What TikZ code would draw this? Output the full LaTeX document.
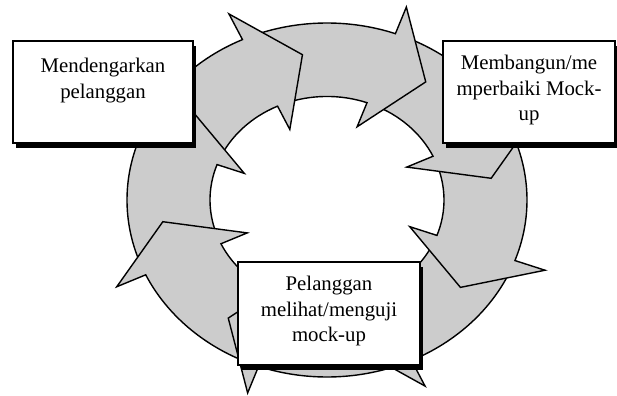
\documentclass[tikz,border=0pt]{standalone}
\usepackage{fontspec}
\setmainfont{Liberation Serif}

\newlength{\du}
\setlength{\du}{0.5pt}

\definecolor{dialinecolor}{rgb}{0.000000, 0.000000, 0.000000}
\definecolor{ringcolor}{rgb}{0.800000, 0.800000, 0.800000}

\tikzset{
	ringarrow/.style={fill=ringcolor, draw=dialinecolor, line width=1.4\du, line join=miter},
	mockbox/.style={draw=dialinecolor, fill=white, line width=1.6\du, inner sep=0pt},
	boxshadow/.style={draw=none, fill=dialinecolor, inner sep=0pt},
	boxtext/.style={anchor=north, inner sep=0pt, align=center, font=\fontsize{10.4}{12.8}\selectfont}
}

\begin{document}
\begin{tikzpicture}
	\pgftransformxscale{1.000000}
	\pgftransformyscale{-1.000000}
	\useasboundingbox (0\du,0\du) rectangle (617\du,396\du);
	% ring of arrows
	\begin{scope}[shift={(327\du,200\du)}, yscale=-0.885]
		\draw[ringarrow] (-23:200\du) arc[start angle=-23, end angle=-65, radius=200\du] -- (-65:232\du) -- (-81.5:166\du) -- (-65:88\du) -- (-65:117\du) arc[start angle=-65, end angle=-23, radius=117\du] -- cycle;
		\draw[ringarrow] (22:200\du) arc[start angle=22, end angle=-20, radius=200\du] -- (-20:232\du) -- (-36.5:166\du) -- (-20:88\du) -- (-20:117\du) arc[start angle=-20, end angle=22, radius=117\du] -- cycle;
		\draw[ringarrow] (67:200\du) arc[start angle=67, end angle=25, radius=200\du] -- (25:232\du) -- (8.5:166\du) -- (25:88\du) -- (25:117\du) arc[start angle=25, end angle=67, radius=117\du] -- cycle;
		\draw[ringarrow] (112:200\du) arc[start angle=112, end angle=70, radius=200\du] -- (70:232\du) -- (53.5:166\du) -- (70:88\du) -- (70:117\du) arc[start angle=70, end angle=112, radius=117\du] -- cycle;
		\draw[ringarrow] (157:200\du) arc[start angle=157, end angle=115, radius=200\du] -- (115:232\du) -- (98.5:166\du) -- (115:88\du) -- (115:117\du) arc[start angle=115, end angle=157, radius=117\du] -- cycle;
		\draw[ringarrow] (202:200\du) arc[start angle=202, end angle=160, radius=200\du] -- (160:232\du) -- (143.5:166\du) -- (160:88\du) -- (160:117\du) arc[start angle=160, end angle=202, radius=117\du] -- cycle;
		\draw[ringarrow] (247:200\du) arc[start angle=247, end angle=205, radius=200\du] -- (205:232\du) -- (188.5:166\du) -- (205:88\du) -- (205:117\du) arc[start angle=205, end angle=247, radius=117\du] -- cycle;
		\draw[ringarrow] (292:200\du) arc[start angle=292, end angle=250, radius=200\du] -- (250:232\du) -- (233.5:166\du) -- (250:88\du) -- (250:117\du) arc[start angle=250, end angle=292, radius=117\du] -- cycle;
	\end{scope}
	% box left
	\node[boxshadow, minimum width=180\du, minimum height=102\du] (listenshadow) at (106\du,97\du) {};
	\node[mockbox, minimum width=180\du, minimum height=102\du] (listen) at (103\du,92\du) {};
	\node[boxtext] (listentext) at (103\du,57.8\du) {Mendengarkan\\pelanggan};
	% box right
	\node[boxshadow, minimum width=172\du, minimum height=102\du] (buildshadow) at (532\du,97\du) {};
	\node[mockbox, minimum width=172\du, minimum height=102\du] (build) at (529\du,92\du) {};
	\node[boxtext] (buildtext) at (529\du,54.8\du) {Membangun/me\\mperbaiki Mock-\\up};
	% box bottom
	\node[boxshadow, minimum width=182\du, minimum height=103\du] (testshadow) at (332\du,318.5\du) {};
	\node[mockbox, minimum width=182\du, minimum height=103\du] (test) at (329\du,313.5\du) {};
	\node[boxtext] (testtext) at (329\du,275.8\du) {Pelanggan\\melihat/menguji\\mock-up};
\end{tikzpicture}
\end{document}
